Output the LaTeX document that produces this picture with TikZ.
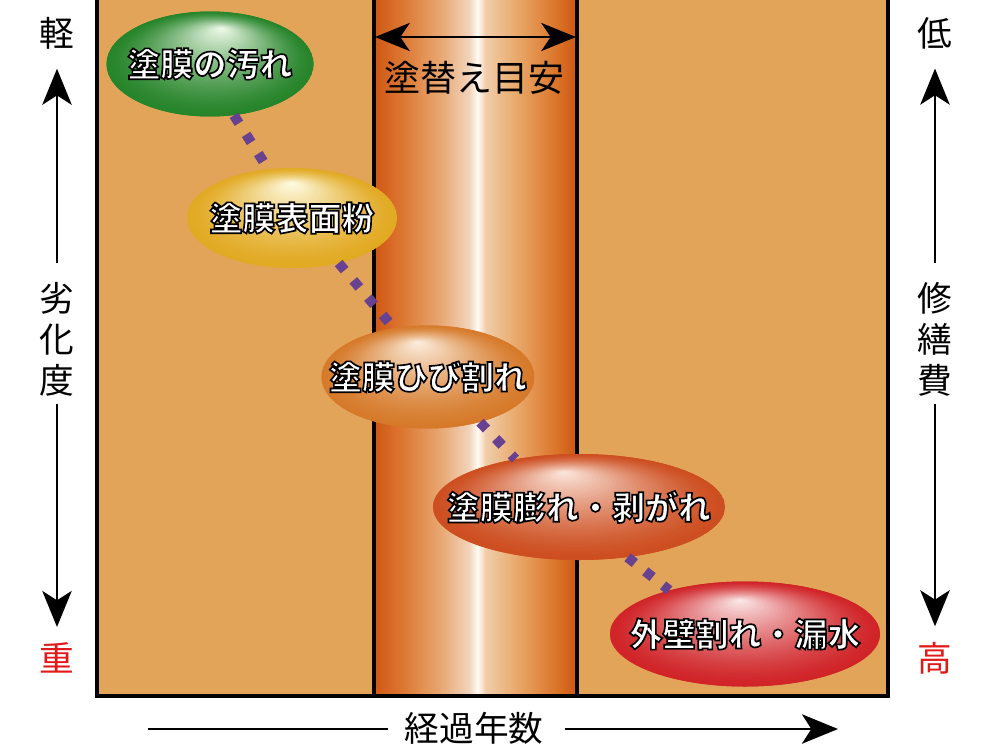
\documentclass[tikz,border=0pt]{standalone}
\usepackage{fontspec}
\usetikzlibrary{shapes.geometric,arrows.meta,calc}
\newfontfamily\jp{Noto Sans CJK JP}
\IfFontExistsTF{Noto Sans CJK JP Black}
  {\newfontfamily\jpo{Noto Sans CJK JP Black}[FakeBold=5]}
  {\newfontfamily\jpo{Noto Sans CJK JP Bold}[FakeBold=5]}
\definecolor{tan}{RGB}{226,164,88}
\definecolor{cA}{RGB}{208,88,22}
\definecolor{cB}{RGB}{220,118,48}
\definecolor{cC}{RGB}{232,168,115}
\definecolor{cD}{RGB}{242,212,188}
\definecolor{cW}{RGB}{255,252,245}
\definecolor{cE}{RGB}{240,205,170}
\definecolor{cF}{RGB}{232,165,100}
\definecolor{cG}{RGB}{218,112,38}
\definecolor{cH}{RGB}{205,88,20}
\definecolor{dotc}{RGB}{105,65,145}
\definecolor{axred}{RGB}{225,25,25}
\definecolor{gOut}{RGB}{38,132,42}
\definecolor{gIn}{RGB}{244,252,238}
\definecolor{yOut}{RGB}{226,170,35}
\definecolor{yIn}{RGB}{255,253,232}
\definecolor{oOut}{RGB}{214,122,42}
\definecolor{oIn}{RGB}{253,240,226}
\definecolor{rOut}{RGB}{205,78,32}
\definecolor{rIn}{RGB}{252,234,224}
\definecolor{dOut}{RGB}{208,36,40}
\definecolor{dIn}{RGB}{252,236,236}
\pgfdeclarehorizontalshading{colshade}{100bp}{color(0bp)=(cA); color(25bp)=(cA); color(31.6bp)=(cB); color(41.4bp)=(cC); color(48.5bp)=(cD); color(50.5bp)=(cW); color(52.5bp)=(cE); color(61bp)=(cF); color(70.8bp)=(cG); color(75bp)=(cH); color(100bp)=(cH)}
% white text with a black stroke (stroke colour set black, fill white)
\newcommand\olt[1]{\makebox[0pt][c]{\color{white}\special{pdf:literal direct 0 0 0 RG}#1}}
% highlight gradient of an ellipse: outer colour, inner colour, semi-axes, highlight offset (px)
\newcommand\blobfill[6]{%
  \foreach \blI in {0,...,39}{%
    \pgfmathsetmacro\blT{\blI/40}%
    \pgfmathsetmacro\blP{100*(\blT^1.4)}%
    \pgfmathsetmacro\blS{1-\blT}%
    \fill[#2!\blP!#1] ($(path picture bounding box.center)+(\blT*#5,\blT*#6)$) ellipse ({\blS*#3*0.75pt} and {\blS*#4*0.75pt});
  }}
\tikzset{
  blob/.style n args={6}{ellipse, inner sep=0pt, minimum width=2*#3*0.75pt, minimum height=2*#4*0.75pt,
    fill=#1, font=\jpo\fontsize{24.75}{30}\selectfont,
    path picture={\blobfill{#1}{#2}{#3}{#4}{#5}{#6}}},
  axlabel/.style={inner sep=0pt, font=\jp\fontsize{26}{30.75}\selectfont, align=center},
  arr/.style={line width=2.2pt, -{Stealth[length=27pt,width=22pt,inset=7pt]}},
  darr/.style={line width=2.2pt, {Stealth[length=26pt,width=21pt,inset=7pt]}-{Stealth[length=26pt,width=21pt,inset=7pt]}},
  plain/.style={line width=2.2pt},
  dots/.style={dotc, line width=7.5pt, dash pattern=on 7pt off 10pt},
  frame/.style={line width=3pt}
}
\begin{document}
\begin{tikzpicture}[x=0.75pt,y=-0.75pt]
\useasboundingbox[fill=white] (0,0) rectangle (1000,750);
% main panel
\fill[tan] (97,0) rectangle (888,697);
\shade[shading=colshade] (375,0) rectangle (576,697);
\draw[frame] (97,0) -- (97,696) -- (888,696) -- (888,0);
\draw[frame] (374,0) -- (374,696);
\draw[frame] (577,0) -- (577,696);
% top double arrow
\coordinate (cl) at (375,37);
\coordinate (cr) at (576,37);
\draw[darr] (cl) -- (cr);
\node[axlabel, font=\jp\fontsize{27}{32}\selectfont] (guide) at (474,78) {塗替え目安};
% left axis
\node[axlabel] (light) at (57,33) {軽};
\node[axlabel] (deg) at (57,339) {劣\\化\\度};
\node[axlabel, text=axred] (heavy) at (57,658) {重};
\draw[arr, shorten <=14pt, shorten >=14.6pt] (deg.north) -- (light.south);
\draw[arr, shorten <=5.6pt, shorten >=11.6pt] (deg.south) -- (heavy.north);
% right axis
\node[axlabel] (low) at (935,33) {低};
\node[axlabel] (cost) at (935,339) {修\\繕\\費};
\node[axlabel, text=axred] (high) at (935,658) {高};
\draw[arr, shorten <=14pt, shorten >=14.6pt] (cost.north) -- (low.south);
\draw[arr, shorten <=5.6pt, shorten >=11.6pt] (cost.south) -- (high.north);
% bottom axis
\node[axlabel] (years) at (474,728) {経過年数};
\coordinate (bl) at (148,729);
\coordinate (br) at (838,729);
\draw[plain, shorten >=12pt] (bl) -- (years.west |- bl);
\draw[arr, shorten <=16pt] (years.east |- br) -- (br);
% ellipses
\node[blob={gOut}{gIn}{103.5}{52.5}{12}{-36}] (e1) at (210,64) {\olt{塗膜の汚れ}};
\node[blob={yOut}{yIn}{105}{50}{0}{-35}] (e2) at (292,218) {\olt{塗膜表面粉}};
\node[blob={oOut}{oIn}{106.5}{51.5}{-10}{-35}] (e3) at (428,377) {\olt{塗膜ひび割れ}};
\node[blob={rOut}{rIn}{146}{53}{-15}{-35}] (e4) at (579,507) {\olt{塗膜膨れ・剥がれ}};
\node[blob={dOut}{dIn}{135}{52.5}{-5}{-34}] (e5) at (745,634) {\olt{外壁割れ・漏水}};
% dotted connectors
\draw[dots] (e1.-65) -- (e2.116);
\draw[dots] (e2.-44) -- (e3.125);
\draw[dots] (e3.-41) -- (e4.143);
\draw[dots] (e4.-46) -- (e5.150);
\end{tikzpicture}
\end{document}
